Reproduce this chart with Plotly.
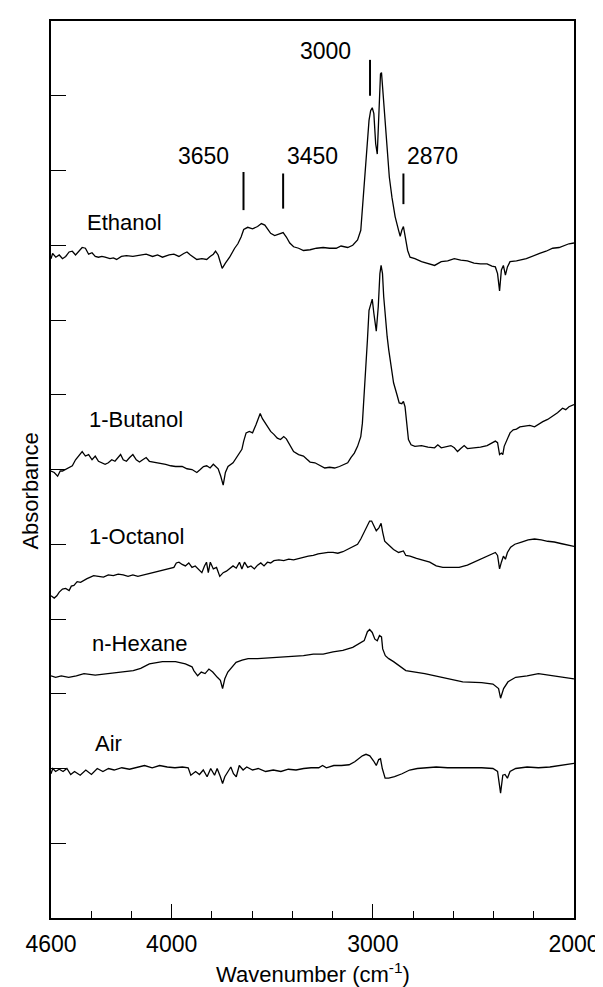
import plotly.graph_objects as go

# ---------------- data (wavenumber cm-1, absorbance in arbitrary offset units) ----------------
ethanol_wn = [4600, 4592, 4576, 4559, 4543, 4527, 4510, 4494, 4478, 4461, 4445, 4429, 4413, 4396, 4380, 4364,
              4347, 4331, 4307, 4290, 4274, 4250, 4225, 4193, 4160, 4127, 4095, 4070, 4046, 4013, 3989, 3964,
              3940, 3924, 3907, 3891, 3875, 3850, 3826, 3809, 3793, 3782, 3769, 3759, 3749, 3733, 3712, 3687,
              3671, 3655, 3642, 3622, 3598, 3573, 3554, 3537, 3521, 3508, 3488, 3467, 3446, 3430, 3413, 3394,
              3369, 3345, 3312, 3280, 3247, 3215, 3182, 3158, 3141, 3125, 3100, 3076, 3060, 3052, 3043, 3032,
              3019, 3011, 3003, 2995, 2986, 2978, 2970, 2962, 2957, 2951, 2941, 2929, 2918, 2905, 2889, 2872,
              2864, 2856, 2848, 2840, 2827, 2815, 2791, 2758, 2726, 2693, 2660, 2628, 2595, 2563, 2530, 2497,
              2465, 2432, 2408, 2391, 2380, 2370, 2361, 2351, 2341, 2331, 2318, 2286, 2237, 2204, 2171, 2139,
              2106, 2074, 2049, 2025, 2000]
ethanol_abs = [8.82, 8.89, 8.84, 8.87, 8.82, 8.85, 8.91, 8.92, 8.87, 8.93, 8.97, 8.96, 8.88, 8.90, 8.85, 8.84,
               8.85, 8.84, 8.82, 8.83, 8.81, 8.85, 8.86, 8.85, 8.87, 8.88, 8.85, 8.87, 8.84, 8.87, 8.88, 8.85,
               8.89, 8.91, 8.87, 8.84, 8.81, 8.82, 8.81, 8.85, 8.88, 8.92, 8.87, 8.78, 8.69, 8.76, 8.84, 8.96,
               9.02, 9.11, 9.21, 9.24, 9.22, 9.25, 9.29, 9.27, 9.21, 9.16, 9.13, 9.15, 9.17, 9.11, 9.03, 8.98,
               8.96, 8.93, 8.94, 8.96, 8.97, 8.96, 8.96, 8.99, 8.98, 8.97, 9.00, 9.07, 9.20, 9.47, 9.82, 10.27,
               10.67, 10.80, 10.84, 10.76, 10.36, 10.22, 10.80, 11.29, 11.31, 11.11, 10.71, 10.27, 9.91, 9.64, 9.38, 9.20,
               9.12, 9.20, 9.25, 9.13, 8.93, 8.84, 8.82, 8.78, 8.76, 8.73, 8.78, 8.79, 8.82, 8.80, 8.79, 8.76,
               8.75, 8.75, 8.72, 8.71, 8.62, 8.39, 8.67, 8.73, 8.60, 8.71, 8.78, 8.79, 8.82, 8.85, 8.89, 8.92,
               8.96, 8.97, 9.00, 9.02, 9.03]

butanol_wn = [4600, 4584, 4567, 4554, 4543, 4519, 4494, 4478, 4461, 4445, 4429, 4413, 4396, 4380, 4364, 4347,
              4331, 4315, 4298, 4282, 4266, 4254, 4241, 4225, 4209, 4193, 4176, 4160, 4144, 4127, 4111, 4087,
              4062, 4030, 4005, 3981, 3948, 3924, 3899, 3875, 3858, 3842, 3826, 3809, 3793, 3769, 3756, 3744,
              3733, 3720, 3695, 3671, 3651, 3642, 3630, 3614, 3598, 3581, 3570, 3560, 3549, 3537, 3524, 3508,
              3492, 3475, 3459, 3443, 3430, 3413, 3394, 3369, 3345, 3329, 3312, 3288, 3264, 3239, 3215, 3190,
              3166, 3141, 3125, 3109, 3092, 3076, 3060, 3052, 3043, 3035, 3027, 3019, 3011, 3003, 2995, 2983,
              2973, 2965, 2959, 2952, 2946, 2938, 2929, 2921, 2913, 2897, 2880, 2869, 2856, 2848, 2840, 2832,
              2823, 2810, 2791, 2758, 2726, 2693, 2677, 2660, 2636, 2612, 2595, 2579, 2563, 2546, 2530, 2497,
              2465, 2432, 2408, 2391, 2380, 2370, 2361, 2354, 2347, 2334, 2318, 2302, 2286, 2269, 2245, 2220,
              2196, 2180, 2155, 2131, 2106, 2082, 2057, 2041, 2025, 2000]
butanol_abs = [5.98, 5.96, 5.91, 5.98, 5.98, 6.02, 6.05, 6.13, 6.18, 6.24, 6.18, 6.20, 6.13, 6.18, 6.11, 6.09,
               6.07, 6.09, 6.13, 6.11, 6.16, 6.20, 6.13, 6.11, 6.16, 6.20, 6.13, 6.10, 6.13, 6.16, 6.11, 6.10,
               6.09, 6.07, 6.05, 6.04, 6.04, 6.01, 6.00, 5.96, 6.00, 6.04, 6.05, 6.02, 6.07, 6.01, 5.91, 5.79,
               5.96, 6.04, 6.09, 6.18, 6.27, 6.38, 6.49, 6.51, 6.49, 6.60, 6.69, 6.75, 6.68, 6.63, 6.56, 6.51,
               6.47, 6.42, 6.40, 6.44, 6.41, 6.32, 6.24, 6.20, 6.18, 6.14, 6.10, 6.09, 6.05, 6.02, 6.03, 6.02,
               6.04, 6.07, 6.09, 6.16, 6.22, 6.31, 6.44, 6.62, 6.98, 7.38, 7.73, 8.13, 8.22, 8.28, 8.09, 7.85,
               8.18, 8.62, 8.73, 8.62, 8.31, 8.00, 7.78, 7.60, 7.47, 7.16, 7.00, 6.89, 6.88, 6.91, 6.84, 6.58,
               6.40, 6.33, 6.31, 6.32, 6.30, 6.29, 6.33, 6.29, 6.31, 6.32, 6.29, 6.24, 6.28, 6.32, 6.28, 6.29,
               6.30, 6.32, 6.36, 6.38, 6.36, 6.20, 6.22, 6.20, 6.31, 6.40, 6.49, 6.53, 6.54, 6.57, 6.58, 6.59,
               6.57, 6.60, 6.64, 6.67, 6.71, 6.76, 6.82, 6.80, 6.84, 6.87]

octanol_wn = [4600, 4584, 4571, 4559, 4543, 4527, 4510, 4499, 4486, 4470, 4453, 4437, 4421, 4404, 4388, 4364,
              4339, 4315, 4290, 4266, 4241, 4217, 4193, 4168, 4152, 4127, 4103, 4078, 4054, 4038, 4021, 4005,
              3989, 3977, 3964, 3948, 3932, 3915, 3899, 3883, 3867, 3850, 3837, 3827, 3818, 3808, 3793, 3777,
              3761, 3744, 3728, 3712, 3695, 3679, 3663, 3651, 3638, 3622, 3606, 3589, 3573, 3557, 3541, 3524,
              3508, 3492, 3467, 3443, 3418, 3394, 3369, 3345, 3321, 3296, 3272, 3247, 3223, 3198, 3174, 3149,
              3125, 3100, 3076, 3060, 3043, 3027, 3016, 3006, 2995, 2983, 2970, 2959, 2951, 2941, 2921, 2897,
              2872, 2848, 2836, 2815, 2783, 2750, 2717, 2685, 2652, 2612, 2571, 2530, 2497, 2465, 2432, 2408,
              2391, 2380, 2370, 2361, 2351, 2341, 2331, 2315, 2294, 2261, 2228, 2196, 2163, 2131, 2098, 2066,
              2033, 2000]
octanol_abs = [4.31, 4.28, 4.31, 4.36, 4.40, 4.41, 4.38, 4.44, 4.45, 4.50, 4.49, 4.52, 4.54, 4.56, 4.58, 4.57,
               4.56, 4.59, 4.58, 4.60, 4.59, 4.57, 4.59, 4.57, 4.58, 4.60, 4.62, 4.63, 4.64, 4.66, 4.67, 4.68,
               4.69, 4.75, 4.76, 4.73, 4.71, 4.75, 4.69, 4.71, 4.67, 4.62, 4.71, 4.76, 4.62, 4.76, 4.67, 4.69,
               4.57, 4.62, 4.64, 4.67, 4.71, 4.68, 4.76, 4.67, 4.76, 4.69, 4.71, 4.67, 4.72, 4.75, 4.71, 4.76,
               4.75, 4.78, 4.79, 4.78, 4.80, 4.79, 4.81, 4.82, 4.84, 4.85, 4.87, 4.88, 4.89, 4.89, 4.88, 4.90,
               4.93, 4.96, 5.00, 5.07, 5.16, 5.24, 5.31, 5.31, 5.24, 5.18, 5.22, 5.28, 5.16, 5.04, 4.99, 4.93,
               4.89, 4.91, 4.85, 4.84, 4.81, 4.79, 4.76, 4.71, 4.69, 4.69, 4.69, 4.72, 4.76, 4.80, 4.84, 4.87,
               4.89, 4.85, 4.67, 4.76, 4.84, 4.80, 4.89, 4.96, 5.00, 5.03, 5.06, 5.07, 5.06, 5.04, 5.03, 5.01,
               4.99, 4.97]

hexane_wn = [4600, 4577, 4549, 4512, 4474, 4436, 4380, 4323, 4248, 4191, 4154, 4111, 4046, 3981, 3932, 3899,
             3890, 3871, 3853, 3834, 3815, 3796, 3773, 3758, 3747, 3736, 3721, 3700, 3680, 3650, 3620, 3573,
             3508, 3426, 3345, 3296, 3247, 3198, 3149, 3100, 3068, 3043, 3027, 3016, 3003, 2990, 2978, 2967,
             2957, 2951, 2938, 2921, 2897, 2872, 2848, 2836, 2742, 2648, 2553, 2459, 2403, 2375, 2365, 2350,
             2328, 2290, 2233, 2177, 2120, 2064, 2000]
hexane_abs = [3.24, 3.22, 3.24, 3.22, 3.24, 3.27, 3.25, 3.27, 3.29, 3.31, 3.34, 3.40, 3.43, 3.43, 3.40, 3.36,
              3.31, 3.24, 3.29, 3.27, 3.33, 3.29, 3.22, 3.18, 3.07, 3.20, 3.29, 3.36, 3.42, 3.45, 3.47, 3.47,
              3.48, 3.49, 3.51, 3.53, 3.53, 3.56, 3.58, 3.62, 3.67, 3.71, 3.83, 3.86, 3.82, 3.73, 3.71, 3.78,
              3.76, 3.60, 3.51, 3.47, 3.43, 3.38, 3.33, 3.31, 3.27, 3.22, 3.16, 3.15, 3.13, 3.07, 2.94, 3.07,
              3.16, 3.22, 3.24, 3.27, 3.25, 3.23, 3.20]

air_wn = [4600, 4591, 4577, 4559, 4540, 4521, 4502, 4483, 4455, 4427, 4399, 4370, 4342, 4314, 4286, 4248,
          4210, 4173, 4135, 4097, 4060, 4022, 3984, 3947, 3918, 3905, 3881, 3862, 3843, 3824, 3806, 3787,
          3774, 3758, 3747, 3736, 3721, 3706, 3693, 3679, 3664, 3645, 3627, 3598, 3570, 3533, 3495, 3457,
          3420, 3382, 3344, 3307, 3269, 3250, 3231, 3194, 3156, 3118, 3090, 3071, 3052, 3034, 3015, 2996,
          2983, 2971, 2962, 2953, 2939, 2921, 2892, 2855, 2817, 2779, 2742, 2685, 2629, 2572, 2516, 2459,
          2403, 2380, 2365, 2354, 2343, 2331, 2318, 2290, 2233, 2177, 2120, 2064, 2000]
air_abs = [1.93, 2.00, 1.96, 1.99, 1.96, 2.00, 1.92, 1.96, 1.91, 1.98, 1.92, 2.00, 1.96, 2.00, 1.98, 2.01,
           1.99, 2.01, 2.04, 2.01, 2.04, 2.02, 2.01, 2.02, 2.01, 1.91, 1.96, 1.92, 1.98, 1.89, 2.00, 1.91,
           2.00, 1.89, 1.80, 1.89, 1.96, 2.02, 1.93, 1.89, 2.04, 1.98, 2.02, 1.98, 2.00, 1.96, 1.98, 1.96,
           1.99, 1.98, 2.00, 2.01, 2.01, 2.04, 2.01, 2.04, 2.04, 2.05, 2.09, 2.13, 2.17, 2.19, 2.17, 2.10,
           2.04, 2.12, 2.13, 2.00, 1.87, 1.87, 1.89, 1.93, 1.98, 2.00, 2.01, 2.02, 2.01, 2.01, 2.02, 2.01,
           2.00, 1.96, 1.67, 1.91, 1.92, 1.87, 1.96, 2.00, 2.02, 2.01, 2.02, 2.04, 2.07]

series_names = ["Ethanol", "1-Butanol", "1-Octanol", "n-Hexane", "Air"]

# band markers: label text, marker wavenumber, marker bottom / top (absorbance units)
band_labels = ["3650", "3450", "3000", "2870"]
band_marker_wn = [3643, 3446, 3014, 2848]
band_marker_lo = [9.47, 9.49, 11.00, 9.55]
band_marker_hi = [9.98, 9.96, 11.48, 9.96]

x_tick_labels = ["4600", "4000", "3000", "2000"]
x_tick_vals = [4600, 4000, 3000, 2000]

# ---------------- figure ----------------
FONT = "Liberation Sans, Arial, Helvetica, sans-serif"
fig = go.Figure()

for wn, ab, nm in [(ethanol_wn, ethanol_abs, series_names[0]),
                   (butanol_wn, butanol_abs, series_names[1]),
                   (octanol_wn, octanol_abs, series_names[2]),
                   (hexane_wn, hexane_abs, series_names[3]),
                   (air_wn, air_abs, series_names[4])]:
    fig.add_trace(go.Scatter(x=wn, y=ab, mode="lines", name=nm,
                             line=dict(color="black", width=1.3), showlegend=False,
                             hoverinfo="skip"))

# band marker segments
mx, my = [], []
for w, lo, hi in zip(band_marker_wn, band_marker_lo, band_marker_hi):
    mx += [w, w, None]
    my += [lo, hi, None]
fig.add_trace(go.Scatter(x=mx, y=my, mode="lines", line=dict(color="black", width=2),
                         showlegend=False, hoverinfo="skip"))

# series labels (layout positions)
label_pos = {"Ethanol": (4429, 9.31), "1-Butanol": (4421, 6.67), "1-Octanol": (4421, 5.11),
             "n-Hexane": (4404, 3.67), "Air": (4389, 2.33)}
for nm in series_names:
    x0, y0 = label_pos[nm]
    fig.add_annotation(x=x0, y=y0, text=nm, showarrow=False, xanchor="left", yanchor="middle",
                       font=dict(family=FONT, size=22, color="black"))

band_label_pos = [(3842, 10.2), (3301, 10.2), (3235, 11.6), (2701, 10.2)]
for t, (x0, y0) in zip(band_labels, band_label_pos):
    fig.add_annotation(x=x0, y=y0, text=t, showarrow=False, xanchor="center", yanchor="middle",
                       font=dict(family=FONT, size=23, color="black"))

# axis titles
fig.add_annotation(xref="paper", yref="paper", x=0.5, y=-0.061, text="Wavenumber (cm<sup>-1</sup>)",
                   showarrow=False, xanchor="center", yanchor="middle",
                   font=dict(family=FONT, size=22, color="black"))
fig.add_annotation(xref="paper", yref="paper", x=-0.041, y=0.476, text="Absorbance", textangle=-90,
                   showarrow=False, xanchor="center", yanchor="middle",
                   font=dict(family=FONT, size=22, color="black"))

fig.update_layout(
    width=603, height=987,
    margin=dict(l=43, r=29, t=11, b=77),
    paper_bgcolor="white", plot_bgcolor="white",
    font=dict(family=FONT, color="black"),
    xaxis=dict(range=[4600, 2000], tickmode="array", tickvals=x_tick_vals, ticktext=x_tick_labels,
               ticks="inside", ticklen=14, tickwidth=1.2, tickcolor="black",
               minor=dict(tickmode="linear", tick0=2000, dtick=200, ticks="inside", ticklen=7,
                          tickwidth=1, tickcolor="black", showgrid=False),
               showline=True, linecolor="black", linewidth=1.5, mirror=True, showgrid=False,
               zeroline=False, tickfont=dict(family=FONT, size=23, color="black"),
               ticklabelstandoff=5),
    yaxis=dict(range=[0, 12], tickmode="linear", tick0=0, dtick=1, ticks="inside", ticklen=15,
               tickwidth=1.2, tickcolor="black", showticklabels=False,
               showline=True, linecolor="black", linewidth=1.5, mirror=True, showgrid=False,
               zeroline=False),
)

fig.write_html("out.html")
